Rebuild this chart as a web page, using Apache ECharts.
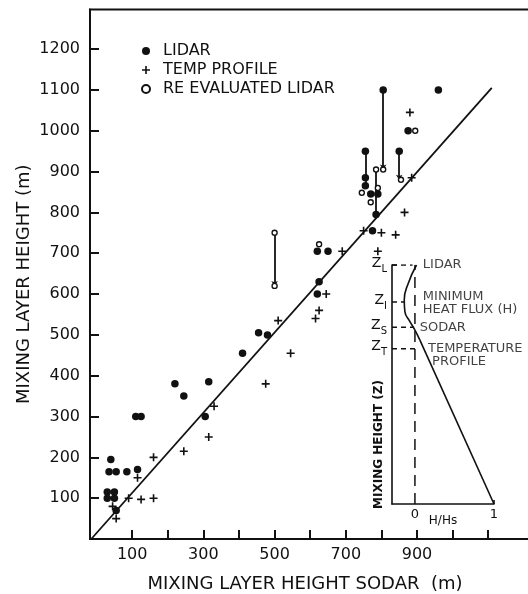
<!DOCTYPE html>
<html>
<head>
<meta charset="utf-8">
<script src="https://cdn.jsdelivr.net/npm/echarts@6/dist/echarts.min.js"></script>
<style>
html, body { margin: 0; padding: 0; background: #fff; }
#chart { width: 528px; height: 594px; }
</style>
</head>
<body>
<div id="chart"></div>
<script>
// Mixing layer height from LIDAR and temperature profiles against SODAR (m)
const lidar = [
  [805, 1100], [960, 1100], [875, 1000], [755, 950], [755, 885], [755, 865], [770, 845], [790, 845],
  [785, 795], [850, 950], [775, 755], [620, 705], [650, 705], [625, 630], [620, 600], [455, 505],
  [480, 500], [410, 455], [315, 385], [305, 300], [220, 380], [245, 350], [110, 300], [125, 300],
  [40, 195], [35, 165], [55, 165], [85, 165], [115, 170], [30, 115], [30, 100], [50, 115], [50, 100], [55, 70]
];
const tempProfile = [
  [880, 1045], [885, 885], [865, 800], [750, 755], [800, 750], [840, 745], [790, 705], [690, 705],
  [645, 600], [625, 560], [615, 540], [510, 535], [545, 455], [475, 380], [330, 325], [315, 250],
  [245, 215], [160, 200], [115, 150], [90, 100], [125, 97], [160, 100], [45, 80], [55, 50]
];
const reEvaluated = [
  [805, 905], [895, 1000], [745, 848], [785, 905], [790, 860], [770, 825], [855, 880], [625, 722],
  [500, 750], [500, 620]
];
// [sodar, height before, height after] for the vertical correction strokes
const correctionsArrowed = [[805, 1100, 905], [850, 950, 880], [500, 750, 620]];
const correctionsPlain = [[755, 950, 865], [785, 905, 795]];
const oneToOne = [[-15, 0], [1110, 1105]];

const yTicks = [100, 200, 300, 400, 500, 600, 700, 800, 900, 1000, 1100, 1200];
const xTicks = [100, 200, 300, 400, 500, 600, 700, 800, 900, 1000, 1100];
const xTickLabels = [100, 300, 500, 700, 900];

// Inset: normalised heat flux H/Hs against mixing height Z
const fluxCurve = [[0.02, 1.0], [-0.085, 0.923], [-0.135, 0.854], [-0.127, 0.805], [-0.063, 0.763], [0, 0.728], [0.063, 0.686]];
const fluxLine = [[0.063, 0.686], [1.0, 0.0]];
const zoneNames = ['L', 'I', 'S', 'T'];
const zoneHeights = [1.0, 0.845, 0.74, 0.65];
const zoneReach = [-0.03, -0.13, -0.02, 0.03];
const zoneText = ['LIDAR', 'MINIMUM\nHEAT FLUX (H)', 'SODAR', 'TEMPERATURE\n PROFILE'];
const zoneTextAt = [[0.10, 1.0], [0.10, 0.84], [0.06, 0.736], [0.165, 0.623]];
const insetZero = [[0, 0], [0, 1.0]];
const insetTicks = [0, 1];

const INK = '#111';
const FONT = 'DejaVu Sans';
const plusPath = 'path://M4,0H6V4H10V6H6V10H4V6H0V4H4Z';

function zoneLines() {
  const xMin = -0.29;
  return zoneHeights.map((z, i) => ({
    type: 'line', xAxisIndex: 1, yAxisIndex: 1, symbol: 'none', silent: true,
    lineStyle: { color: INK, width: 1.5, type: [5, 4] },
    data: [[xMin, z], [zoneReach[i], z]]
  }));
}

function correctionSeries(list, arrow) {
  return {
    type: 'lines', coordinateSystem: 'cartesian2d', xAxisIndex: 0, yAxisIndex: 0,
    symbol: arrow ? ['none', 'arrow'] : ['none', 'none'], symbolSize: 5,
    lineStyle: { color: INK, width: 1.8, opacity: 1 },
    z: 1, silent: true,
    data: list.map(c => ({ coords: [[c[0], c[1]], [c[0], c[2]]] }))
  };
}

const plain = v => String(v);

const chart = echarts.init(document.getElementById('chart'), null, { renderer: 'canvas' });
chart.setOption({
  animation: false,
  backgroundColor: '#fff',
  textStyle: { fontFamily: FONT, color: INK },
  grid: [
    { left: 90, right: -4, top: 9.5, bottom: 55, show: true, borderColor: INK, borderWidth: 2, containLabel: false, outerBoundsMode: 'none' },
    { left: 392, right: 34, top: 265, bottom: 90, containLabel: false, outerBoundsMode: 'none' }
  ],
  legend: {
    orient: 'vertical', left: 136, top: 38, itemWidth: 8, itemHeight: 8, itemGap: 3,
    textStyle: { fontFamily: FONT, fontSize: 16, color: INK, padding: [0, 0, 0, 8] },
    data: ['LIDAR', 'TEMP PROFILE', 'RE EVALUATED LIDAR']
  },
  xAxis: [
    {
      type: 'value', gridIndex: 0, min: -18.5, max: 1223,
      splitLine: { show: false },
      axisLine: { show: true, onZero: false, lineStyle: { color: INK, width: 2 } },
      axisTick: { show: true, inside: true, length: 9, customValues: xTicks, lineStyle: { color: INK, width: 2 } },
      axisLabel: { show: true, customValues: xTickLabels, formatter: plain, margin: 8, fontSize: 16, color: INK, fontFamily: FONT },
      name: 'MIXING LAYER HEIGHT SODAR  (m)', nameLocation: 'middle', nameGap: 36, nameMoveOverlap: false,
      nameTextStyle: { fontSize: 18, color: INK, fontFamily: FONT, padding: [0, 12, 0, 0] }
    },
    {
      type: 'value', gridIndex: 1, min: -0.29, max: 1.0,
      splitLine: { show: false },
      axisLine: { show: true, onZero: false, lineStyle: { color: INK, width: 1.6 } },
      axisTick: { show: true, inside: true, length: 4, customValues: [1], lineStyle: { color: INK, width: 1.6 } },
      axisLabel: { show: true, customValues: insetTicks, formatter: plain, margin: 4, fontSize: 13, color: INK, fontFamily: FONT },
      name: 'H/Hs', nameLocation: 'middle', nameGap: 11, nameMoveOverlap: false,
      nameTextStyle: { fontSize: 12, color: INK, fontFamily: FONT }
    }
  ],
  yAxis: [
    {
      type: 'value', gridIndex: 0, min: 0, max: 1297,
      splitLine: { show: false },
      axisLine: { show: true, onZero: false, lineStyle: { color: INK, width: 2 } },
      axisTick: { show: true, inside: true, length: 9, customValues: yTicks, lineStyle: { color: INK, width: 2 } },
      axisLabel: { show: true, customValues: yTicks, formatter: plain, margin: 10, fontSize: 16, color: INK, fontFamily: FONT },
      name: 'MIXING LAYER HEIGHT (m)', nameLocation: 'middle', nameGap: 57, nameRotate: 90, nameMoveOverlap: false,
      nameTextStyle: { fontSize: 18, color: INK, fontFamily: FONT, padding: [0, 20, 0, 0] }
    },
    {
      type: 'value', gridIndex: 1, min: 0, max: 1.0,
      splitLine: { show: false },
      axisLine: { show: true, onZero: false, lineStyle: { color: INK, width: 1.6 } },
      axisTick: { show: true, inside: true, length: 5, customValues: [1.0], lineStyle: { color: INK, width: 1.6 } },
      axisLabel: {
        show: true, customValues: zoneHeights, margin: 5, color: INK, fontFamily: FONT,
        formatter: v => '{z|Z}{s|' + zoneNames[zoneHeights.indexOf(v)] + '}',
        rich: {
          z: { fontSize: 14, fontFamily: FONT, color: INK, lineHeight: 18, verticalAlign: 'top' },
          s: { fontSize: 10, fontFamily: FONT, color: INK, lineHeight: 18, verticalAlign: 'bottom', padding: [8, 0, 0, 0] }
        }
      },
      name: 'MIXING HEIGHT (Z)', nameLocation: 'middle', nameGap: 7, nameRotate: 90, nameMoveOverlap: false,
      nameTextStyle: { fontSize: 12, fontWeight: 'bold', color: INK, fontFamily: FONT, padding: [0, 120, 0, 0] }
    }
  ],
  series: [
    {
      type: 'line', xAxisIndex: 0, yAxisIndex: 0, symbol: 'none', silent: true, z: 1,
      lineStyle: { color: INK, width: 1.8 }, data: oneToOne
    },
    correctionSeries(correctionsArrowed, true),
    correctionSeries(correctionsPlain, false),
    {
      name: 'LIDAR', type: 'scatter', xAxisIndex: 0, yAxisIndex: 0, symbol: 'circle', symbolSize: 7.5, z: 3,
      itemStyle: { color: INK, opacity: 1 }, data: lidar
    },
    {
      name: 'TEMP PROFILE', type: 'scatter', xAxisIndex: 0, yAxisIndex: 0, symbol: plusPath, symbolSize: 8, z: 3,
      itemStyle: { color: INK, opacity: 1 }, data: tempProfile
    },
    {
      name: 'RE EVALUATED LIDAR', type: 'scatter', xAxisIndex: 0, yAxisIndex: 0, symbol: 'circle', symbolSize: 5, z: 4,
      itemStyle: { color: '#fff', borderColor: INK, borderWidth: 1.4, opacity: 1 }, data: reEvaluated
    },
    // inset profile
    {
      type: 'line', xAxisIndex: 1, yAxisIndex: 1, symbol: 'none', silent: true, smooth: 0.5,
      lineStyle: { color: INK, width: 1.6 }, data: fluxCurve
    },
    {
      type: 'line', xAxisIndex: 1, yAxisIndex: 1, symbol: 'none', silent: true,
      lineStyle: { color: INK, width: 1.6 }, data: fluxLine
    },
    {
      type: 'line', xAxisIndex: 1, yAxisIndex: 1, symbol: 'none', silent: true,
      lineStyle: { color: INK, width: 1.5, type: [11, 7] }, data: insetZero
    },
    ...zoneLines(),
    {
      type: 'scatter', xAxisIndex: 1, yAxisIndex: 1, symbolSize: 0, silent: true,
      label: {
        show: true, position: 'right', distance: 0, align: 'left', verticalAlign: 'middle',
        fontSize: 13, lineHeight: 13, color: INK, fontFamily: FONT,
        formatter: p => zoneText[p.dataIndex]
      },
      data: zoneTextAt
    }
  ]
});
</script>
</body>
</html>
